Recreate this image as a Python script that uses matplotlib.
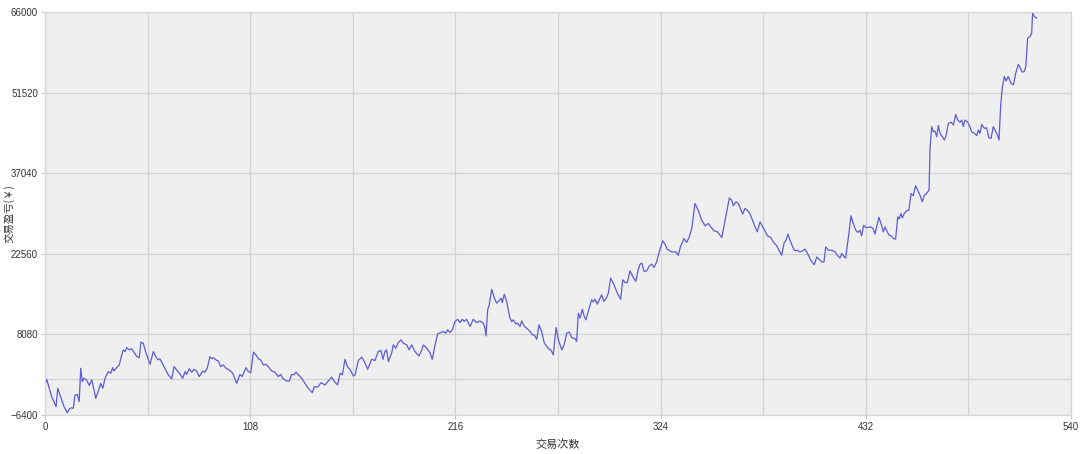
import matplotlib
matplotlib.use('Agg')
import matplotlib.pyplot as plt

plt.rcParams['font.family'] = ['Liberation Sans', 'Noto Sans CJK SC', 'DejaVu Sans']

# 交易序号 / 累计盈亏
trade_no = [
    0, 0.9, 3.5, 4.7, 5.8, 6.7, 8.2, 10, 11.8, 12.8, 14, 14.9, 15.8, 17, 18, 18.8, 19.6, 20.5,
    21.9, 23.3, 24.6, 25.4, 26.7, 28, 29.3, 30.4, 31.6, 33.3, 34.6, 35.6, 36.3, 37.4, 39.1,
    40.4, 41.2, 42.1, 43, 44.4, 45.6, 46.8, 48.3, 49.6, 50.5, 51.7, 53.2, 55.3, 57, 58.8,
    59.6, 60.5, 62.6, 64.9, 66.7, 67.9, 69.3, 70.7, 72.5, 73.7, 74.6, 75.9, 77.2, 78.4, 79.8,
    81.2, 83, 84.2, 85.4, 86.8, 87.7, 88.6, 90, 91.2, 92.5, 93.8, 95.3, 97, 98.8, 100.9,
    102.6, 103.8, 105.8, 107, 108.3, 109.7, 111, 112.3, 113.5, 114.9, 116.3, 117.5, 119.3,
    121, 122.8, 124, 125.1, 127.2, 128.6, 129.8, 131, 132.1,
    135.1, 136.8, 138.6, 140.7, 141.7, 143.5, 145.3, 147.4, 148.8, 150.9, 152.3, 154, 155.3,
    156.5, 157.9, 159.3, 160.5, 162.3, 163.2, 164.9, 166.7, 168.4, 169.8, 171.9, 173.7,
    175.4, 176.8, 177.9, 178.9, 179.8, 180.7, 182.5, 183.3, 184.6, 185.9, 187.4, 188.6,
    190.4, 191.6, 193, 194.7, 196.8, 198.3, 199.1, 200.9, 202.6, 203.8, 205.3, 206.7, 208.4,
    209.6, 210.9, 211.9, 213.2, 214.4, 215.8, 217.2, 218.4, 219.6, 220.7, 221.9, 223.7,
    225.4, 227.2, 229, 230.7, 231.6, 232.1, 233, 233.8, 235.1, 236.5, 237.7, 238.9, 240,
    240.7, 241.7, 243, 243.8, 244.7, 245.6, 246.5, 247.7, 248.8, 250, 250.9, 252.3, 253.5,
    255.3, 256.5, 257.5, 258.8, 260, 261.4, 262.8, 264, 265.3, 266.3,
    267.5, 269, 270.2, 272, 273.2, 274.6, 276, 277.2, 279, 279.8, 280.7, 281.6, 282.8, 283.8,
    284.7, 286, 287.7, 288.6, 289.5, 290.7, 291.7, 293, 294.2, 295.6, 296.5, 297.7, 299.5,
    301.2, 303, 304.1, 305.3, 306.5, 307.9, 309.3, 311, 312.2, 313.2, 314.1, 315.3, 316.7,
    318.1, 319.3, 320.5, 321.9, 323.3, 325.1, 326.3, 327.5, 329.8, 332.1, 333.3, 334.6,
    335.6, 336.3, 337.7, 339.1, 340.4, 342.1, 343.9, 345.6, 347.4, 349.1, 350.4, 352.1,
    353.9, 356.2, 357.4, 358.8, 360.2, 361.4, 362.3, 363.7, 364.9, 366.1, 367.2, 368.4,
    369.6, 371.1, 372.5, 373.7, 374.9, 376.3, 377.7, 378.9, 380.2, 381.9, 383.3, 385.1,
    386.5, 387.7, 389, 390, 391.1, 392.1, 393.5, 394.7, 395.9, 397.4, 398.8, 400, 401.2,
    403.2, 404.9, 406.2, 407.4, 408.8, 410, 410.9, 412.3, 414.1, 415.8, 417.2, 418.4, 419.3,
    420.7, 421.4, 422.5, 423.2, 424.2, 425.4, 426.7, 427.8, 428.9, 429.8, 430.9, 431.9,
    433.3, 434.7, 436, 436.8, 437.7, 438.9, 440, 441.2, 442.1, 443, 444.2, 445.3, 446.5,
    447.7, 448.8, 449.5, 450.5, 451.2, 452.3, 453.5, 454.7, 455.8, 457, 458.2, 459.3, 460.5,
    461.7, 462.8, 464, 465.3, 465.8, 466.7, 467.5, 468.4, 469.3, 470.2, 471.1, 472.3, 473.3,
    474.1, 475.5, 476.9, 478.1, 479.3, 480.4, 481.6, 482.5, 483.3, 484.2, 485.6, 486.8,
    487.7, 489.1, 490.4, 491.2, 492.1, 493, 494.4, 495.6, 496.8, 497.9, 499.1, 500.3, 501.4,
    502.1, 503, 503.9, 504.9, 505.8, 507, 508.4, 509.7, 510.9, 512.3, 513.2, 514.4, 515.4,
    516.2, 517.2, 518.4, 519.3, 519.8, 520.7, 521.9,
]
pnl = [
    -1000, 0, -3100, -4000, -4900, -1600, -3100, -4900, -6000, -5300, -5100, -5200, -2800,
    -2700, -4000, 2000, -400, 200, -100, -1100, -100, -1300, -3400, -2200, -700, -1600, 200,
    1400, 1100, 2100, 1500, 2000, 2600, 4400, 5300, 5000, 5700, 5300, 5500, 4900, 4100,
    3900, 6700, 6500, 4700, 2700, 5000, 3800, 3500, 3700, 2300, 800, 100, 2300, 1700, 1100,
    200, 1400, 900, 1900, 1300, 1800, 1500, 500, 1500, 1300, 2000, 4100, 3700, 3900, 3500,
    3300, 2300, 2600, 2000, 1700, 1100, -700, 900, 500, 2100, 1400, 1200, 4900, 4400, 3700,
    3500, 2600, 2700, 2300, 1500, 1300, 500, 900, 200, -300, -300, 900, 800, 1300,
    200, -700, -1600, -2400, -1300, -1400, -600, -1000, -400, 400, -400, -1000, 1100, 800,
    3600, 2200, 1800, 600, 800, 3400, 4000, 3000, 1800, 3600, 3400, 5000, 5200, 3600, 5000,
    5300, 3200, 4800, 6200, 5600, 6600, 7100, 6500, 6200, 5300, 6200, 5000, 4200, 5300,
    6200, 5600, 4800, 3600, 6200, 8200, 8400, 8600, 8300, 8900, 8400, 8900, 10400, 10800,
    10200, 10800, 10400, 10800, 9500, 10800, 10200, 10500, 10100, 9200, 7800, 12500, 13400,
    16200, 14600, 13700, 14100, 14600, 13800, 15300, 14000, 12500, 11000, 10400, 10700,
    10000, 10100, 9500, 10500, 9500, 9200, 8600, 8000, 8000, 7200, 9800, 8600, 6500, 6000,
    5400, 5300,
    4400, 9300, 7100, 5300, 6200, 8300, 8500, 7500, 7300, 6800, 11900, 11000, 12600, 11300,
    10700, 12300, 14300, 13900, 14400, 13500, 14300, 15200, 14000, 14700, 15500, 18200,
    17000, 15500, 14400, 17900, 17400, 17400, 19500, 18500, 17600, 19700, 20700, 20900,
    19400, 19500, 20400, 20700, 20100, 21100, 22900, 24900, 24300, 23400, 22900, 22900,
    22300, 24000, 24700, 25300, 24600, 25600, 27100, 31600, 30300, 28600, 27600, 28000,
    27400, 26700, 26500, 25500, 27600, 30100, 32600, 32200, 31200, 31900, 31600, 30600,
    29700, 30700, 30400, 29700, 28500, 27400, 26500, 28300, 27400, 26700, 25800, 25500,
    24700, 24000, 23100, 22300, 24500, 25000, 26100, 25000, 23800, 23100, 23200, 22900,
    23100, 23400, 22700,
    21300, 20600, 22000, 21600, 21100, 21100, 23800, 23200, 23200, 22900, 22200, 21800,
    22600, 22000, 21800, 24700, 26500, 29400, 28000, 26800, 26400, 26800, 25800, 27700,
    27300, 27300, 27400, 27000, 26100, 27400, 29100, 28000, 26500, 27400, 26700, 25900,
    25800, 25300, 25200, 29200, 28800, 29800, 29000, 29800, 30300, 30400, 33400, 33000,
    34800, 34000, 33100, 31900, 33100, 33400, 34000, 41500, 45400, 44500, 44600, 43600,
    45600, 44200, 43600, 43000, 43600, 46000, 46200, 45700, 47600, 46600, 46200, 46600,
    45400, 46600, 46200, 45400, 44500, 44200, 43800, 44800, 44200, 45800, 45100, 45200,
    43400, 43300, 45400, 44600, 43800, 43000, 49300, 52600, 54400, 53600, 54400, 53200,
    52900, 55000, 56600, 56000, 55200, 55300, 56200, 61300, 61600, 62200, 65800, 65200,
    64900,
]

x_ticks = [0, 108, 216, 324, 432, 540]
y_ticks = [-6400, 8080, 22560, 37040, 51520, 66000]

fig = plt.figure(figsize=(10.8, 4.54), dpi=100)
ax = fig.add_axes([45 / 1080, 1 - 415 / 454, 1026 / 1080, 403 / 454])
ax.set_facecolor('#efefef')

ax.plot(trade_no, pnl, color='#5c5cd6', lw=0.9)

ax.set_xlim(0, 540)
ax.set_ylim(-6400, 66000)
ax.set_xticks(x_ticks)
ax.set_xticks([54, 162, 270, 378, 486], minor=True)
ax.set_yticks(y_ticks)
ax.set_yticks([0], minor=True)
ax.grid(True, which='both', color='#d2d2d2', lw=0.9)
ax.set_axisbelow(True)

for s in ax.spines.values():
    s.set_color('#d6d6d6')
    s.set_linewidth(0.9)

ax.tick_params(which='major', length=3, color='#c8c8c8', labelsize=7, labelcolor='#333333', pad=2)
ax.tick_params(which='minor', length=0)

cjk = ['Noto Sans CJK SC', 'DejaVu Sans']
ax.set_xlabel('交易次数', fontsize=8, color='#333333', family=cjk, labelpad=5)
fig.text(9 / 1080, 1 - 214 / 454, '交易盈亏(￥)', rotation=90, ha='center', va='center',
         fontsize=7.5, color='#333333', family=cjk)

fig.savefig('out.png', dpi=100)
